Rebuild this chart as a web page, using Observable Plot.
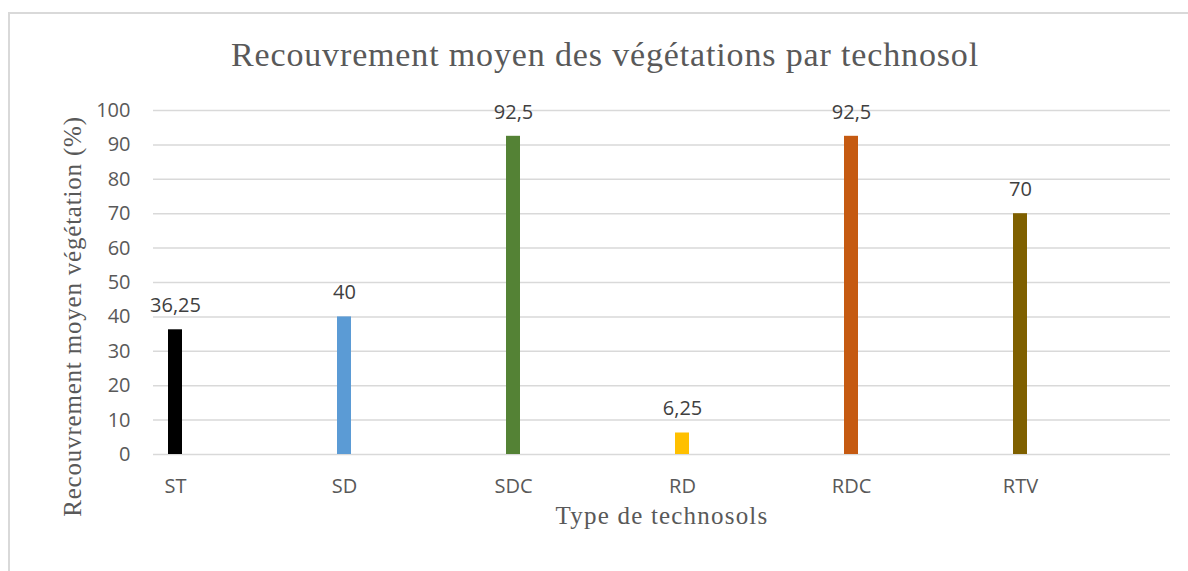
<!DOCTYPE html>
<html><head><meta charset="utf-8">
<script src="https://cdn.jsdelivr.net/npm/d3@7"></script>
<script src="https://cdn.jsdelivr.net/npm/@observablehq/plot@0.6"></script>
<style>
body{margin:0;background:#fff;width:1188px;height:571px;overflow:hidden;position:relative}
#frame{position:absolute;left:8px;top:12px;width:1200px;height:600px;border-left:2px solid #d9d9d9;border-top:2px solid #d9d9d9;box-sizing:border-box}
#title{position:absolute;left:10px;width:1190px;top:30px;text-align:center;font-family:"Liberation Serif",serif;font-size:34px;letter-spacing:0.85px;color:#595959;line-height:50px;white-space:nowrap;z-index:2}
#chart{position:absolute;left:0;top:0}
</style>
</head><body>
<div id="frame"></div>
<div id="chart"></div>
<div id="title">Recouvrement moyen des végétations par technosol</div>
<script>
const categories = ["ST", "SD", "SDC", "RD", "RDC", "RTV"];
const values = [36.25, 40, 92.5, 6.25, 92.5, 70];
const colors = ["#000000", "#5B9BD5", "#548235", "#FFC000", "#C55A11", "#7F6000"];
const yTicks = [0, 10, 20, 30, 40, 50, 60, 70, 80, 90, 100];
const yLabel = "Recouvrement moyen végétation (%)";
const xLabel = "Type de technosols";

const data = categories.map((c, i) => ({cat: c, val: values[i]}));
const fmt = v => String(v).replace(".", ",");

const chart = Plot.plot({
  width: 1188,
  height: 571,
  marginLeft: 153,
  marginRight: 18,
  marginTop: 110,
  marginBottom: 117,
  style: {fontFamily: "'Open Sans', sans-serif", fontSize: "20px", background: "transparent"},
  x: {type: "band", domain: categories, range: [89.25, 1106.25], paddingInner: 0.9174, paddingOuter: 0.4587, axis: null},
  y: {domain: [0, 100], axis: null},
  color: {domain: categories, range: colors},
  marks: [
    Plot.ruleY(yTicks, {stroke: "#d9d9d9", strokeWidth: 1.5}),
    Plot.axisY(yTicks, {tickSize: 0, tickPadding: 23, label: null, fill: "#595959", fontSize: 20}),
    Plot.axisX({tickSize: 0, tickPadding: 24, label: null, fill: "#595959", fontSize: 20}),
    Plot.barY(data, {x: "cat", y: "val", fill: "cat"}),
    Plot.text(data, {x: "cat", y: "val", text: d => fmt(d.val), dy: -24, fill: "#404040", fontSize: 20}),
    Plot.text([yLabel], {frameAnchor: "left", textAnchor: "middle", rotate: -90, dx: -81, dy: 34, fontSize: 25, fontFamily: "'Liberation Serif', serif", fill: "#595959"}),
    Plot.text([xLabel], {frameAnchor: "bottom", textAnchor: "middle", dy: 69, fontSize: 25, fontFamily: "'Liberation Serif', serif", fill: "#595959"})
  ]
});
chart.querySelectorAll("text").forEach(t => {
  const s = t.textContent;
  if (s === yLabel) t.style.letterSpacing = "0.8px";
  if (s === xLabel) t.style.letterSpacing = "1.2px";
});
document.getElementById("chart").appendChild(chart);
</script>
</body></html>
